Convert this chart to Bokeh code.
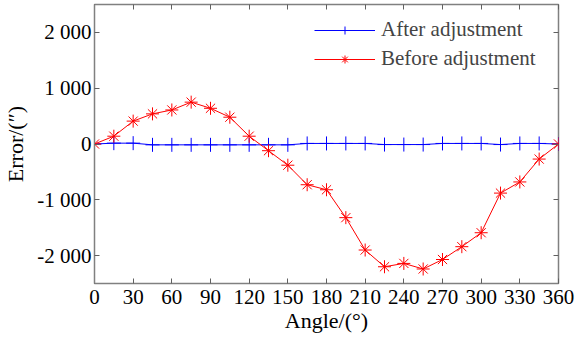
from bokeh.plotting import figure
from bokeh.models import LinearAxis, FixedTicker, Range1d, Legend, LegendItem, CustomLabelingPolicy
from bokeh.embed import file_html
from bokeh.resources import INLINE

angles = [0, 15, 30, 45, 60, 75, 90, 105, 120, 135, 150, 165, 180, 195, 210, 225, 240, 255, 270, 285, 300, 315, 330, 345, 360]
before = [0, 140, 410, 540, 610, 750, 640, 480, 140, -120, -380, -730, -820, -1320, -1900, -2200, -2140, -2240, -2070, -1840, -1590, -880, -680, -270, 0]
after = [0, 15, 15, -15, -15, -15, -15, -15, -15, -15, -15, 10, 10, 10, 10, -10, -10, -10, 10, 10, 10, -10, 10, 10, 0]

x_ticks = [0, 30, 60, 90, 120, 150, 180, 210, 240, 270, 300, 330, 360]
y_ticks = [-2000, -1000, 0, 1000, 2000]
y_tick_labels = {-2000: "-2 000", -1000: "-1 000", 0: "0", 1000: "1 000", 2000: "2 000"}

FONT = "Liberation Serif"

p = figure(width=577, height=335, output_backend="svg", toolbar_location=None,
           x_range=Range1d(0, 360), y_range=Range1d(-2500, 2500),
           min_border_left=2, min_border_right=19, min_border_top=0, min_border_bottom=0)
p.grid.visible = False
p.outline_line_color = "#808080"
p.outline_line_width = 1.5
p.background_fill_color = "white"
p.border_fill_color = "white"

for ax in (p.xaxis[0], p.yaxis[0]):
    ax.major_tick_in = 5
    ax.major_tick_out = 0
    ax.minor_tick_line_color = None
    ax.axis_line_color = "#808080"
    ax.major_tick_line_color = "#606060"
    ax.major_label_text_font = FONT
    ax.major_label_text_font_size = "21px"
    ax.major_label_text_color = "black"
    ax.axis_label_text_font = FONT
    ax.axis_label_text_font_size = "22px"
    ax.axis_label_text_font_style = "normal"
    ax.axis_label_text_color = "black"

p.xaxis.ticker = FixedTicker(ticks=x_ticks)
p.yaxis.ticker = FixedTicker(ticks=y_ticks)
p.yaxis.major_label_overrides = y_tick_labels
p.xaxis.axis_label = "Angle/(°)"
p.yaxis.axis_label = "Error/(″)"
p.xaxis.major_label_standoff = 6
p.yaxis.major_label_standoff = 3
p.xaxis.axis_label_standoff = 1
p.yaxis.axis_label_standoff = 6

hide = "for (const i of indices) indices.unset(i); return indices"
top = LinearAxis(ticker=FixedTicker(ticks=x_ticks), major_tick_in=5, major_tick_out=0,
                 minor_tick_line_color=None, major_label_policy=CustomLabelingPolicy(code=hide),
                 axis_line_color=None, major_tick_line_color="#606060", major_label_standoff=0,
                 major_label_text_font_size="1px")
right = LinearAxis(ticker=FixedTicker(ticks=y_ticks), major_tick_in=5, major_tick_out=0,
                   minor_tick_line_color=None, major_label_policy=CustomLabelingPolicy(code=hide),
                   axis_line_color=None, major_tick_line_color="#606060", major_label_standoff=0,
                   major_label_text_font_size="1px")
p.add_layout(top, "above")
p.add_layout(right, "right")

bl = p.line(angles, after, line_color="#0000ff", line_width=1)
bm = p.scatter(angles, after, marker="cross", size=14, line_color="#0000ff", line_width=1)
rl = p.line(angles, before, line_color="#ff0000", line_width=1)
rm = p.scatter(angles, before, marker="asterisk", size=13, line_color="#ff0000", line_width=1)

legend = Legend(items=[LegendItem(label="After adjustment", renderers=[bl, bm]),
                       LegendItem(label="Before adjustment", renderers=[rl, rm])],
                location="top_right", border_line_color=None, background_fill_alpha=0,
                label_text_font=FONT, label_text_font_size="21px", glyph_width=61,
                label_standoff=6, spacing=4, margin=13, padding=6, label_width=164)
p.add_layout(legend)

open("out.html", "w").write(file_html(p, INLINE))
